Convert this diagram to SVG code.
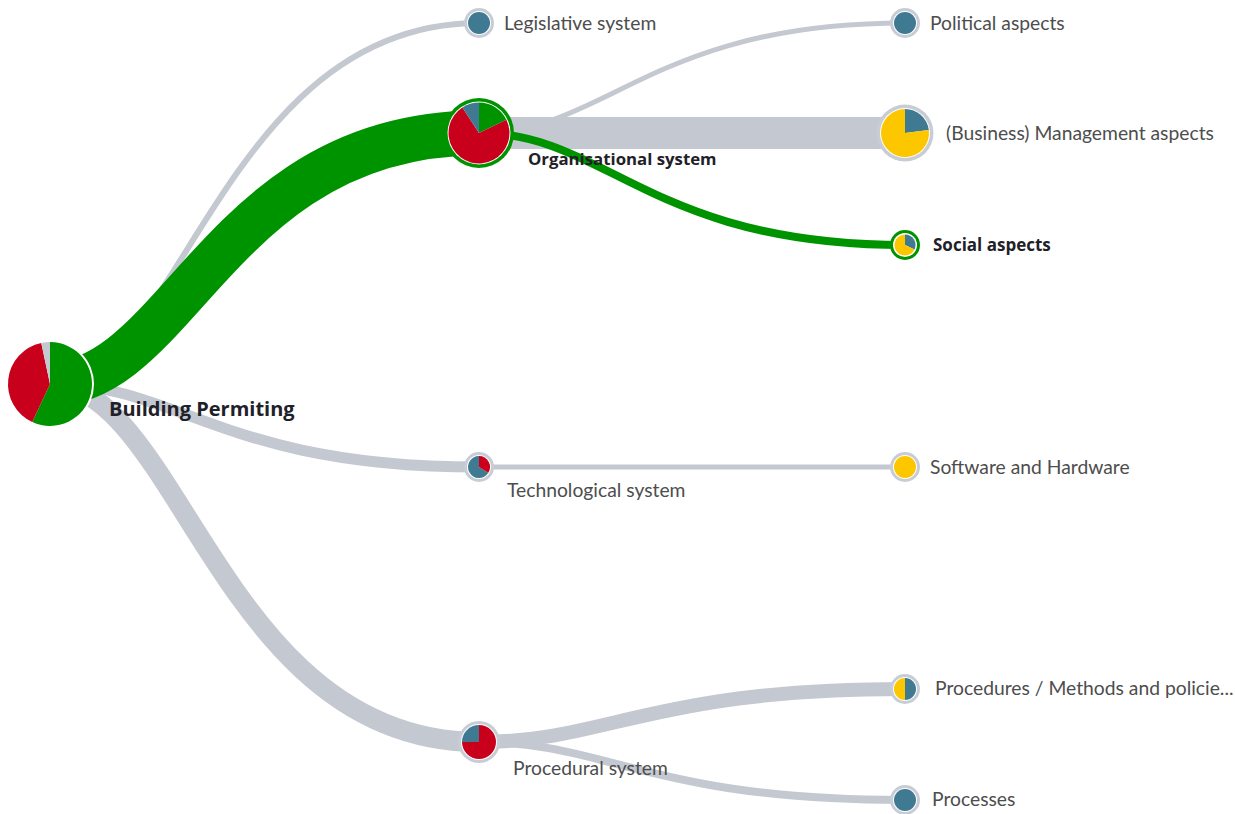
<svg xmlns="http://www.w3.org/2000/svg" width="1235" height="814" viewBox="0 0 1235 814">
  <defs>
    <style>
      .link { fill: none; stroke: #c4c9d1; stroke-linecap: butt; }
      .link-hot { fill: none; stroke: #009300; stroke-linecap: butt; }
      .ring { fill: #c8cdd5; }
      .ring-hot { fill: #009300; }
      .gap { fill: #ffffff; }
      .teal { fill: #3f7a92; }
      .yellow { fill: #fdc700; }
      .red { fill: #c8001c; }
      .green { fill: #009300; }
      .grey { fill: #c4c9d1; }
      .label { font-family: Lato, "Liberation Sans", sans-serif; font-size: 19.3px; fill: #4d4d4d; }
      .label-bold { font-family: "Open Sans", "Liberation Sans", sans-serif; font-weight: bold; fill: #1f2128; }
    </style>
  </defs>
  <rect width="1235" height="814" fill="#ffffff"/>

  <!-- connectors -->
  <g id="links">
    <path class="link" stroke-width="6" d="M50,384 C178.7,384 221.6,23 479,23"/>
    <path class="link" stroke-width="11" d="M50,384 C178.7,384 221.6,467 479,467"/>
    <path class="link" stroke-width="20" d="M50,384 C178.7,384 221.6,742 479,742"/>
    <path class="link" stroke-width="5" d="M479,133 C606.8,133 649.4,23 905,23"/>
    <path class="link" stroke-width="32" d="M479,133 L905,133"/>
    <path class="link" stroke-width="5" d="M479,467 L905,467"/>
    <path class="link" stroke-width="14" d="M479,742 C606.8,742 649.4,689 905,689"/>
    <path class="link" stroke-width="8" d="M479,742 C606.8,742 649.4,800 905,800"/>
    <path class="link-hot" stroke-width="45" d="M50,384 C178.7,384 221.6,133 479,133"/>
    <path class="link-hot" stroke-width="8" d="M479,133 C606.8,133 649.4,245 905,245"/>
  </g>

  <!-- root -->
  <g id="node-building-permiting">
    <circle cx="50" cy="384" r="44" class="gap"/>
    <path class="green" d="M50,384 L50,342 A42,42 0 1 1 32.25,422.06 Z"/>
    <path class="red" d="M50,384 L32.25,422.06 A42,42 0 0 1 41.27,342.92 Z"/>
    <path class="grey" d="M50,384 L41.27,342.92 A42,42 0 0 1 50,342 Z"/>
    <text class="label-bold" x="109" y="416" font-size="20">Building Permiting</text>
  </g>

  <g id="node-legislative">
    <circle cx="479" cy="23" r="15" class="ring"/>
    <circle cx="479" cy="23" r="12" class="gap"/>
    <circle cx="479" cy="23" r="11" class="teal"/>
    <text class="label" x="504" y="30">Legislative system</text>
  </g>

  <g id="node-organisational">
    <circle cx="479" cy="133" r="35" class="ring-hot"/>
    <circle cx="479" cy="133" r="31.5" class="gap"/>
    <path class="green" d="M479,133 L479,102.5 A30.5,30.5 0 0 1 506.41,119.63 Z"/>
    <path class="red" d="M479,133 L506.41,119.63 A30.5,30.5 0 1 1 462.39,107.42 Z"/>
    <path class="teal" d="M479,133 L462.39,107.42 A30.5,30.5 0 0 1 479,102.5 Z"/>
    <text class="label-bold" x="528" y="165" font-size="16.8">Organisational system</text>
  </g>

  <g id="node-technological">
    <circle cx="479" cy="467" r="15" class="ring"/>
    <circle cx="479" cy="467" r="12" class="gap"/>
    <path class="teal" d="M479,467 L488.33,472.83 A11,11 0 1 1 479,456 Z"/>
    <path class="red" d="M479,467 L479,456 A11,11 0 0 1 488.33,472.83 Z"/>
    <text class="label" x="507" y="497">Technological system</text>
  </g>

  <g id="node-procedural">
    <circle cx="479" cy="742" r="21" class="ring"/>
    <circle cx="479" cy="742" r="18" class="gap"/>
    <path class="red" d="M479,742 L479,725 A17,17 0 1 1 462,742 Z"/>
    <path class="teal" d="M479,742 L462,742 A17,17 0 0 1 479,725 Z"/>
    <text class="label" x="513" y="775">Procedural system</text>
  </g>

  <g id="node-political">
    <circle cx="905" cy="23" r="15" class="ring"/>
    <circle cx="905" cy="23" r="12" class="gap"/>
    <circle cx="905" cy="23" r="11" class="teal"/>
    <text class="label" x="930" y="30">Political aspects</text>
  </g>

  <g id="node-management">
    <circle cx="905" cy="133" r="28.5" class="ring"/>
    <circle cx="905" cy="133" r="25" class="gap"/>
    <path class="teal" d="M905,133 L905,109 A24,24 0 0 1 928.82,130.07 Z"/>
    <path class="yellow" d="M905,133 L928.82,130.07 A24,24 0 1 1 905,109 Z"/>
    <text class="label" x="946" y="140">(Business) Management aspects</text>
  </g>

  <g id="node-social">
    <circle cx="905" cy="245" r="15" class="ring-hot"/>
    <circle cx="905" cy="245" r="12" class="gap"/>
    <path class="teal" d="M905,245 L905,234.5 A10.5,10.5 0 0 1 914.52,249.44 Z"/>
    <path class="yellow" d="M905,245 L914.52,249.44 A10.5,10.5 0 1 1 905,234.5 Z"/>
    <text class="label-bold" x="933" y="251" font-size="17">Social aspects</text>
  </g>

  <g id="node-software">
    <circle cx="905" cy="467" r="15" class="ring"/>
    <circle cx="905" cy="467" r="12" class="gap"/>
    <circle cx="905" cy="467" r="11" class="yellow"/>
    <text class="label" x="930" y="474">Software and Hardware</text>
  </g>

  <g id="node-procedures">
    <circle cx="905" cy="689" r="15" class="ring"/>
    <circle cx="905" cy="689" r="12" class="gap"/>
    <path class="teal" d="M905,689 L905,678 A11,11 0 0 1 905,700 Z"/>
    <path class="yellow" d="M905,689 L905,700 A11,11 0 0 1 905,678 Z"/>
    <text class="label" x="935" y="695">Procedures / Methods and policie...</text>
  </g>

  <g id="node-processes">
    <circle cx="905" cy="800" r="15" class="ring"/>
    <circle cx="905" cy="800" r="12" class="gap"/>
    <circle cx="905" cy="800" r="11" class="teal"/>
    <text class="label" x="932" y="806">Processes</text>
  </g>
</svg>
